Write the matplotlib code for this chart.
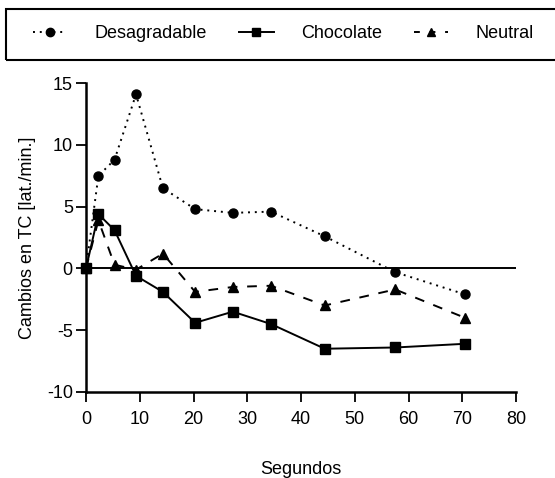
import matplotlib.pyplot as plt
from matplotlib.lines import Line2D
from matplotlib.patches import Rectangle

plt.rcParams['font.family'] = ['Liberation Sans', 'DejaVu Sans']
plt.rcParams['axes.unicode_minus'] = False

# tiempo (s) y cambios en la frecuencia cardiaca
segundos = [0, 2.3, 5.3, 9.3, 14.3, 20.3, 27.3, 34.4, 44.4, 57.5, 70.5]
desagradable = [0, 7.5, 8.8, 14.1, 6.5, 4.8, 4.5, 4.6, 2.6, -0.3, -2.1]
chocolate = [0, 4.4, 3.1, -0.6, -1.9, -4.4, -3.5, -4.5, -6.5, -6.4, -6.1]
neutral = [0, 3.9, 0.3, -0.1, 1.2, -1.9, -1.5, -1.4, -3.0, -1.7, -4.0]

series = ['Desagradable', 'Chocolate', 'Neutral']
xticks = [0, 10, 20, 30, 40, 50, 60, 70, 80]
yticks = [-10, -5, 0, 5, 10, 15]

fig = plt.figure(figsize=(5.55, 4.78), dpi=100)
ax = fig.add_axes([0.155, 0.18, 0.775, 0.646])

dot = (0, (1, 2.5))
dash = (0, (5, 5))
ax.plot(segundos, desagradable, color='black', linestyle=dot,
        linewidth=1.4, marker='o', markersize=6.5, clip_on=False)
ax.plot(segundos, chocolate, color='black', linestyle='-',
        linewidth=1.4, marker='s', markersize=7, clip_on=False)
ax.plot(segundos, neutral, color='black', linestyle=dash,
        linewidth=1.4, marker='^', markersize=6.5, clip_on=False)
ax.axhline(0, color='black', linewidth=1.4, zorder=1)

ax.set_xlim(0, 80)
ax.set_ylim(-10, 15)
ax.set_xticks(xticks)
ax.set_yticks(yticks)
ax.tick_params(direction='out', length=7.5, width=1.3, labelsize=13)
ax.tick_params(axis='x', pad=6)
ax.tick_params(axis='y', pad=2)
for side in ('top', 'right'):
    ax.spines[side].set_visible(False)
for side in ('left', 'bottom'):
    ax.spines[side].set_linewidth(1.8)

ax.set_xlabel('Segundos', fontsize=13, labelpad=24)
ax.set_ylabel('Cambios en TC [lat./min.]', fontsize=13, labelpad=8)

# leyenda dentro de un recuadro en la parte superior
handles = [
    Line2D([], [], color='black', linestyle=dot, linewidth=1.4,
           marker='o', markersize=6),
    Line2D([], [], color='black', linestyle='-', linewidth=1.4,
           marker='s', markersize=6),
    Line2D([], [], color='black', linestyle=(0, (3, 5)), linewidth=1.4,
           marker='^', markersize=6),
]
fig.legend(handles, series, loc='center left',
           bbox_to_anchor=(33 / 555, 1 - 34 / 478),
           bbox_transform=fig.transFigure, ncol=3, fontsize=13,
           frameon=False, handlelength=1.9, handletextpad=1.5,
           columnspacing=1.8, borderpad=0, borderaxespad=0)
fig.patches.append(Rectangle((6 / 555, 1 - 60 / 478), 560 / 555, 51 / 478,
                             transform=fig.transFigure, fill=False,
                             edgecolor='black', linewidth=1.5))

fig.savefig('out.png', dpi=100)
